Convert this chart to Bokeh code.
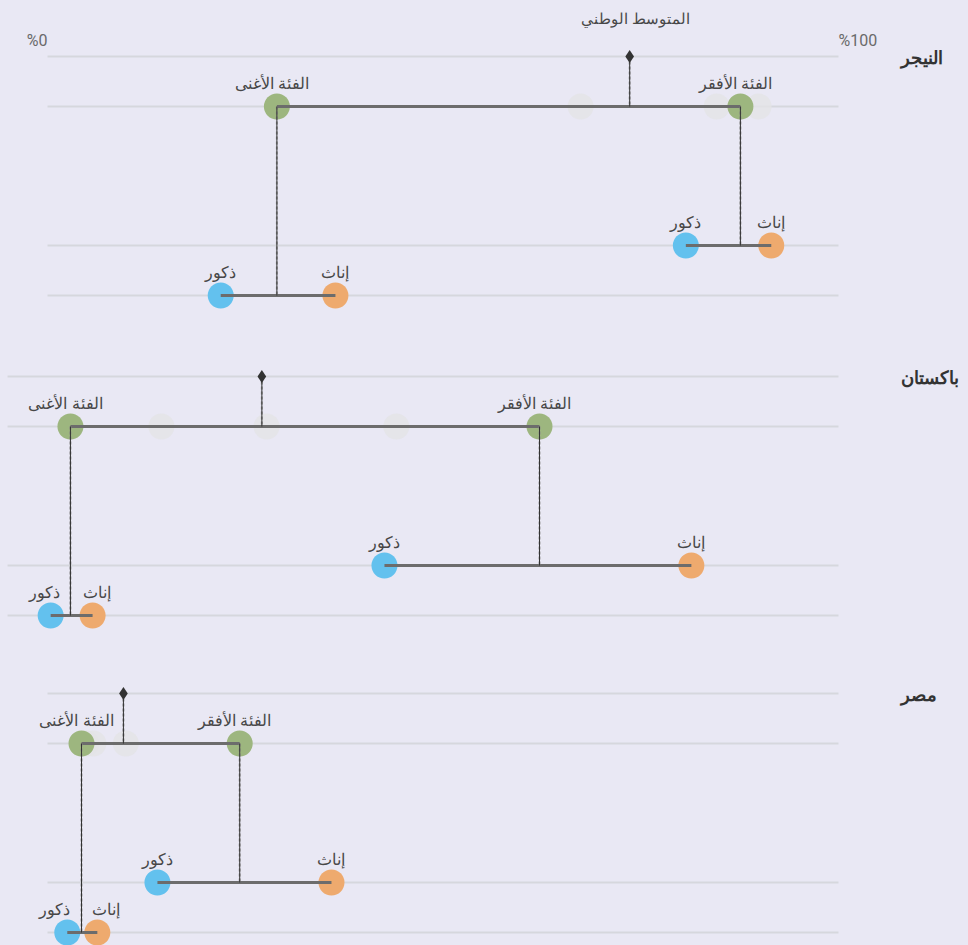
from bokeh.plotting import figure
from bokeh.models import Range1d
from bokeh.core.properties import value
from bokeh.embed import file_html
from bokeh.resources import INLINE

# ---------------- data (percent) ----------------
countries = ["النيجر", "باكستان", "مصر"]
national_avg = [73.6, 27.1, 9.6]
richest = [29.0, 2.9, 4.3]
poorest = [87.6, 62.2, 24.3]
other_quintiles = [[67.4, 84.6, 89.9], [14.4, 27.7, 44.1], [4.9, 5.8, 9.9]]
poorest_male = [80.7, 42.6, 13.9]
poorest_female = [91.5, 81.4, 35.9]
richest_male = [21.9, 0.4, 2.5]
richest_female = [36.4, 5.7, 6.3]
tick_values = [0, 100]
tick_labels = ["%0", "%100"]
avg_label = "المتوسط الوطني"
rich_label = "الفئة الأغنى"
poor_label = "الفئة الأفقر"
male_label = "ذكور"
female_label = "إناث"

# ---------------- layout ----------------
W, H = 968, 945
PX_PER_PCT = 7.91
X0 = -47 / PX_PER_PCT
X1 = X0 + W / PX_PER_PCT
panel_tops = [56, 376, 693]
ROW_AVG, ROW_WEALTH, ROW_POOR_SEX, ROW_RICH_SEX = 0, 50, 189, 239
grid_start = [0, -5.05, 0]
grid_end = 100

BG = "#e9e8f4"
GRID = "#d6d7dd"
GREEN = "#9db67f"
BLUE = "#63c1ee"
ORANGE = "#eeaa6e"
FADED = "#e3e3e6"
LINE = "#6c6c6c"
DARK = "#333333"
TXT = "#474747"
FONT = "Noto Sans"
LBL = "16px"

p = figure(width=W, height=H, output_backend="svg", toolbar_location=None,
           x_range=Range1d(X0, X1), y_range=Range1d(H, 0),
           min_border=0, background_fill_color=BG, border_fill_color=BG,
           outline_line_color=None)
p.axis.visible = False
p.grid.visible = False

R = 13  # circle radius px
CS = 2 * R

for i, c in enumerate(countries):
    top = panel_tops[i]
    y_avg = top + ROW_AVG
    y_w = top + ROW_WEALTH
    y_ps = top + ROW_POOR_SEX
    y_rs = top + ROW_RICH_SEX
    # gridlines
    for yy in (y_avg, y_w, y_ps, y_rs):
        p.segment(x0=[grid_start[i]], y0=[yy], x1=[grid_end], y1=[yy],
                  line_color=GRID, line_width=2)
    # faded quintiles
    q = other_quintiles[i]
    p.scatter(x=q, y=[y_w] * len(q), size=CS, marker="circle",
              fill_color=FADED, fill_alpha=0.8, line_color=None)
    # colored circles
    p.scatter(x=[richest[i], poorest[i]], y=[y_w, y_w], size=CS, marker="circle",
              fill_color=GREEN, line_color=None)
    p.scatter(x=[poorest_male[i], richest_male[i]], y=[y_ps, y_rs], size=CS,
              marker="circle", fill_color=BLUE, line_color=None)
    p.scatter(x=[poorest_female[i], richest_female[i]], y=[y_ps, y_rs], size=CS,
              marker="circle", fill_color=ORANGE, line_color=None)
    # connecting horizontal lines
    p.segment(x0=[richest[i], poorest_male[i], richest_male[i]],
              y0=[y_w, y_ps, y_rs],
              x1=[poorest[i], poorest_female[i], richest_female[i]],
              y1=[y_w, y_ps, y_rs], line_color=LINE, line_width=3)
    # vertical connectors
    vx = [national_avg[i], poorest[i], richest[i]]
    vy0 = [y_avg, y_w, y_w]
    vy1 = [y_w, y_ps, y_rs]
    p.segment(x0=vx, y0=vy0, x1=vx, y1=vy1, line_color="#8a8a8a", line_width=2,
              line_dash="3 2", line_alpha=0.8)
    p.segment(x0=vx, y0=vy0, x1=vx, y1=vy1, line_color=DARK, line_width=1)
    # diamond
    p.scatter(x=[national_avg[i]], y=[y_avg], marker="diamond", size=13,
              fill_color=DARK, line_color=None)
    # labels
    p.text(x=[richest[i], poorest[i]], y=[y_w - 24, y_w - 24],
           text=[rich_label, poor_label], x_offset=-5,
           text_align="center", text_baseline="middle",
           text_font=value(FONT), text_font_size=LBL, text_color=TXT)
    for xm, xf, yy in ((poorest_male[i], poorest_female[i], y_ps),
                       (richest_male[i], richest_female[i], y_rs)):
        gap = (xf - xm) * PX_PER_PCT
        need = max(0, 52 - gap)
        p.text(x=[xm], y=[yy - 24], text=[male_label], x_offset=-need * 0.6,
               text_align="center", text_baseline="middle",
               text_font=value(FONT), text_font_size=LBL, text_color=TXT)
        p.text(x=[xf], y=[yy - 24], text=[female_label], x_offset=need * 0.4,
               text_align="center", text_baseline="middle",
               text_font=value(FONT), text_font_size=LBL, text_color=TXT)
    # country name
    p.text(x=[grid_end], y=[y_avg], text=[c], x_offset=62,
           text_align="left", text_baseline="middle",
           text_font=value(FONT), text_font_size="18px",
           text_font_style="bold", text_color=DARK)

# national average title (first panel only)
p.text(x=[national_avg[0]], y=[panel_tops[0] - 39], text=[avg_label],
       text_align="center", text_baseline="middle", x_offset=6,
       text_font=value(FONT), text_font_size="15px", text_color=TXT)

# scale tick labels
p.text(x=[tick_values[0]], y=[panel_tops[0] - 16], text=[tick_labels[0]],
       text_align="right", text_baseline="middle",
       text_font=value("Roboto"), text_font_size="16px", text_color="#6a6a6a")
p.text(x=[tick_values[1]], y=[panel_tops[0] - 16], text=[tick_labels[1]],
       text_align="left", text_baseline="middle",
       text_font=value("Roboto"), text_font_size="16px", text_color="#6a6a6a")

html = file_html(p, INLINE)
html = html.replace("</head>",
                    "<style>html,body{background:%s;margin:0;padding:0;overflow:hidden;}</style></head>" % BG, 1)
open("out.html", "w").write(html)
